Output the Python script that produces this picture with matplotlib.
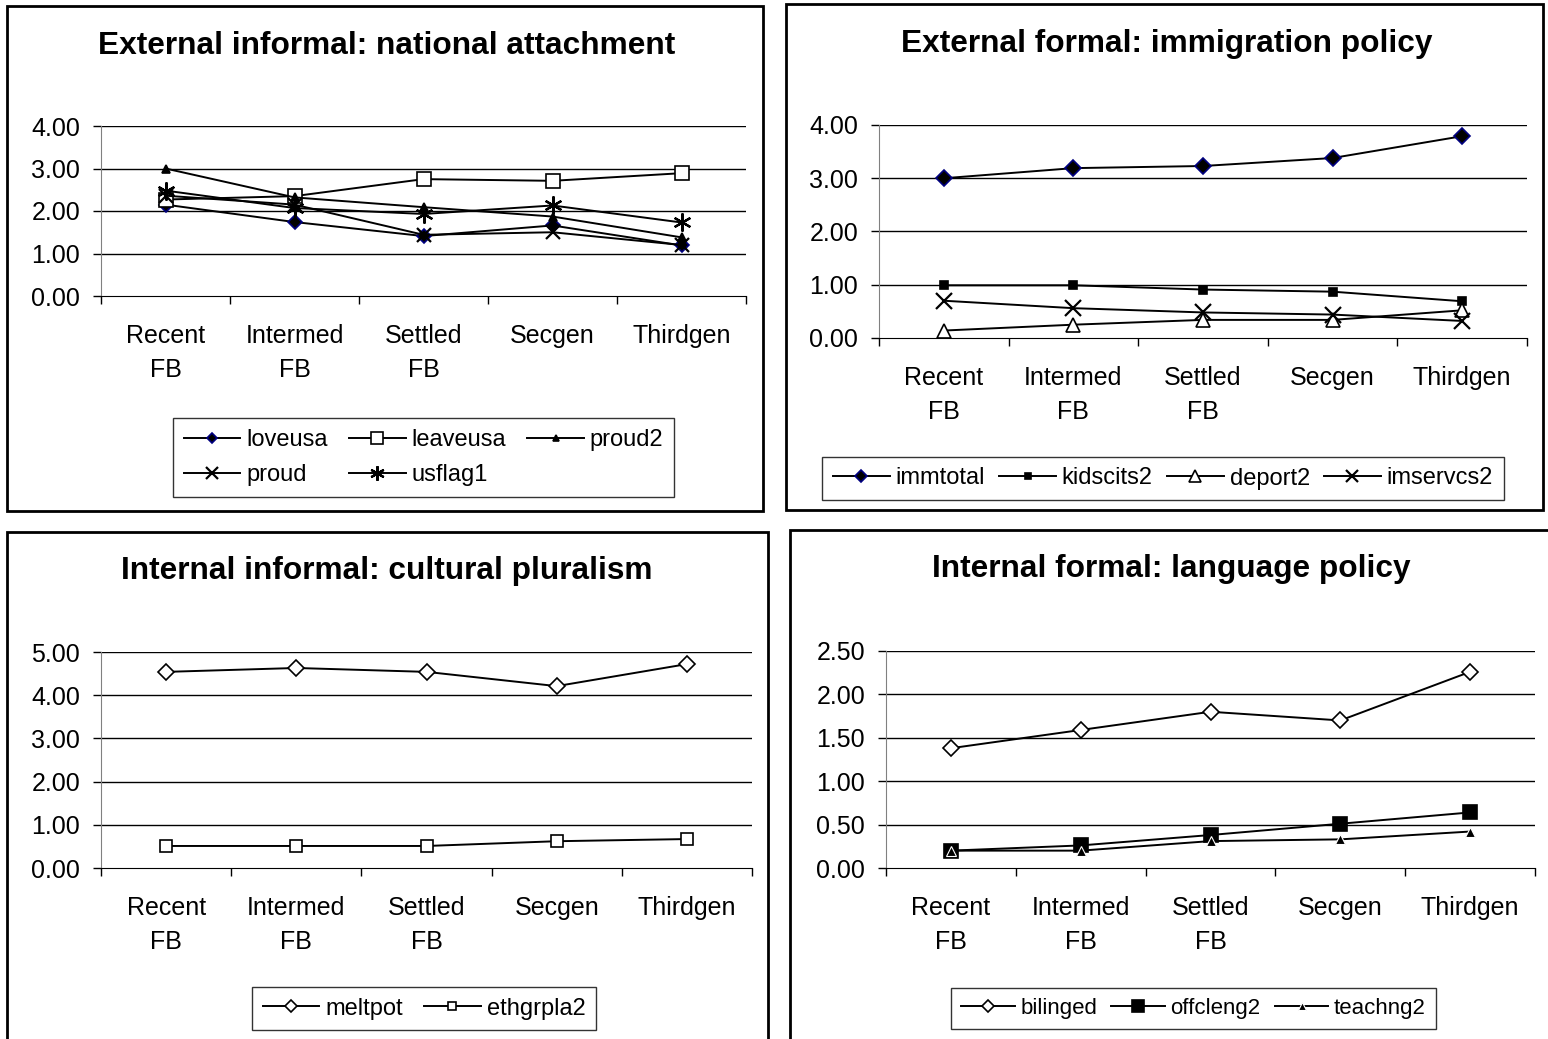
#bibliotecas
import matplotlib
matplotlib.use("Agg")
import matplotlib.pyplot as plt
from matplotlib.patches import Rectangle

plt.rcParams['font.family'] = ['Liberation Sans', 'DejaVu Sans']

#categorias do eixo x
categorias = ["Recent\nFB", "Intermed\nFB", "Settled\nFB", "Secgen", "Thirdgen"]

#grafico 1 - national attachment
loveusa = [2.15, 1.74, 1.41, 1.66, 1.19]
leaveusa = [2.27, 2.35, 2.75, 2.71, 2.89]
proud2 = [3.00, 2.32, 2.09, 1.87, 1.38]
proud = [2.36, 2.15, 1.44, 1.50, 1.20]
usflag1 = [2.48, 2.07, 1.93, 2.13, 1.73]

#grafico 2 - immigration policy
immtotal = [3.00, 3.19, 3.23, 3.38, 3.79]
kidscits2 = [0.99, 0.99, 0.91, 0.87, 0.69]
deport2 = [0.14, 0.25, 0.34, 0.34, 0.52]
imservcs2 = [0.70, 0.56, 0.48, 0.44, 0.32]

#grafico 3 - cultural pluralism
meltpot = [4.54, 4.63, 4.54, 4.21, 4.72]
ethgrpla2 = [0.51, 0.51, 0.51, 0.62, 0.67]

#grafico 4 - language policy
bilinged = [1.38, 1.59, 1.80, 1.70, 2.26]
offcleng2 = [0.20, 0.26, 0.38, 0.51, 0.64]
teachng2 = [0.20, 0.20, 0.31, 0.33, 0.42]

W, H = 1548, 1039
fig = plt.figure(figsize=(W / 100, H / 100), dpi=100)

#converte pixel para fracao da figura
def fx(x):
    return x / W

def fy(y):
    return 1 - y / H

def eixo(l, t, r, b):
    return fig.add_axes([fx(l), fy(b), fx(r) - fx(l), fy(t) - fy(b)])

#formata o eixo parecido com o excel
def formatar(ax, ymax, passo):
    n = len(categorias)
    ax.set_xlim(-0.5, n - 0.5)
    ax.set_ylim(0, ymax)
    yt = [i * passo for i in range(int(round(ymax / passo)) + 1)]
    ax.set_yticks(yt)
    ax.set_yticklabels([f'{v:.2f}' for v in yt])
    for v in yt[1:]:
        ax.axhline(v, color='black', lw=1, zorder=1)
    ax.set_xticks([i - 0.5 for i in range(n + 1)])
    ax.set_xticklabels([])
    ax.set_xticks(range(n), minor=True)
    ax.set_xticklabels(categorias, minor=True, linespacing=1.55)
    ax.tick_params(axis='x', which='minor', length=0, pad=20, labelsize=18)
    ax.tick_params(axis='x', which='major', length=6, width=1, direction='out')
    ax.tick_params(axis='y', length=6, width=1, direction='out', pad=9, labelsize=18)
    ax.spines['top'].set_visible(False)
    ax.spines['right'].set_visible(False)
    ax.spines['left'].set_color('#808080')
    ax.spines['bottom'].set_color('black')

def linha(ax, y, marker, ms, face, edge='black', mew=1.2, label=''):
    x = range(len(y))
    ln, = ax.plot(x, y, color='black', lw=1.4, marker=marker, ms=ms,
                  markerfacecolor=face, markeredgecolor=edge, markeredgewidth=mew,
                  label=label, zorder=3, clip_on=False)
    return ln

def legenda(handles, cx, cy, ncol, tam=17, esp=0.9):
    leg = fig.legend(handles=handles, loc='center', bbox_to_anchor=(fx(cx), fy(cy)),
                     ncol=ncol, fontsize=tam, frameon=True, fancybox=False,
                     edgecolor='black', handlelength=2.4, handletextpad=0.25,
                     columnspacing=esp, borderpad=0.45, labelspacing=0.55,
                     markerscale=0.8)
    leg.get_frame().set_linewidth(1)
    return leg

#grafico 1
ax1 = eixo(101, 126, 746, 296)
formatar(ax1, 4, 1)
h_love = linha(ax1, loveusa, 'D', 7, 'black', edge='#000080', label='loveusa')
h_leave = linha(ax1, leaveusa, 's', 10, 'white', label='leaveusa')
h_p2 = linha(ax1, proud2, '^', 6, 'black', label='proud2')
h_proud = linha(ax1, proud, 'x', 10, 'none', mew=1.6, label='proud')
h_flag = linha(ax1, usflag1, (6, 2, 0), 13, 'none', mew=1.6, label='usflag1')
legenda([h_love, h_proud, h_leave, h_flag, h_p2], 423.5, 457.5, 3)

#grafico 2
ax2 = eixo(879, 125, 1527, 338)
formatar(ax2, 4, 1)
h_imm = linha(ax2, immtotal, 'D', 8, 'black', edge='#000080', label='immtotal')
h_kids = linha(ax2, kidscits2, 's', 6, 'black', label='kidscits2')
h_dep = linha(ax2, deport2, '^', 10, 'white', label='deport2')
h_ims = linha(ax2, imservcs2, 'x', 11, 'none', mew=1.6, label='imservcs2')
legenda([h_imm, h_kids, h_dep, h_ims], 1163, 478.5, 4, esp=0.6)

#grafico 3
ax3 = eixo(101, 652, 752, 868)
formatar(ax3, 5, 1)
h_melt = linha(ax3, meltpot, 'D', 8, 'white', label='meltpot')
h_eth = linha(ax3, ethgrpla2, 's', 8, 'white', label='ethgrpla2')
legenda([h_melt, h_eth], 424, 1008.5, 2)

#grafico 4
ax4 = eixo(886, 651, 1535, 868)
formatar(ax4, 2.5, 0.5)
h_bil = linha(ax4, bilinged, 'D', 8, 'white', label='bilinged')
h_off = linha(ax4, offcleng2, 's', 10, 'black', label='offcleng2')
h_teach = linha(ax4, teachng2, '^', 7, 'black', edge='white', mew=0.8, label='teachng2')
legenda([h_bil, h_off, h_teach], 1193.5, 1008.5, 3, tam=16, esp=0.65)

#titulos
titulos = [("External informal: national attachment", 387, 46),
           ("External formal: immigration policy", 1167, 44),
           ("Internal informal: cultural pluralism", 387, 571),
           ("Internal formal: language policy", 1171, 569)]
for t, x, y in titulos:
    fig.text(fx(x), fy(y), t, ha='center', va='center', fontsize=22.8, fontweight='bold')

#molduras dos graficos
molduras = [(7, 6, 763, 511), (786, 4, 1543, 510), (7, 532, 768, 1045), (790, 530, 1552, 1045)]
for l, t, r, b in molduras:
    fig.patches.append(Rectangle((fx(l), fy(b)), fx(r) - fx(l), fy(t) - fy(b),
                                 transform=fig.transFigure, fill=False,
                                 edgecolor='black', lw=2, clip_on=False))

fig.savefig("out.png", dpi=100)
